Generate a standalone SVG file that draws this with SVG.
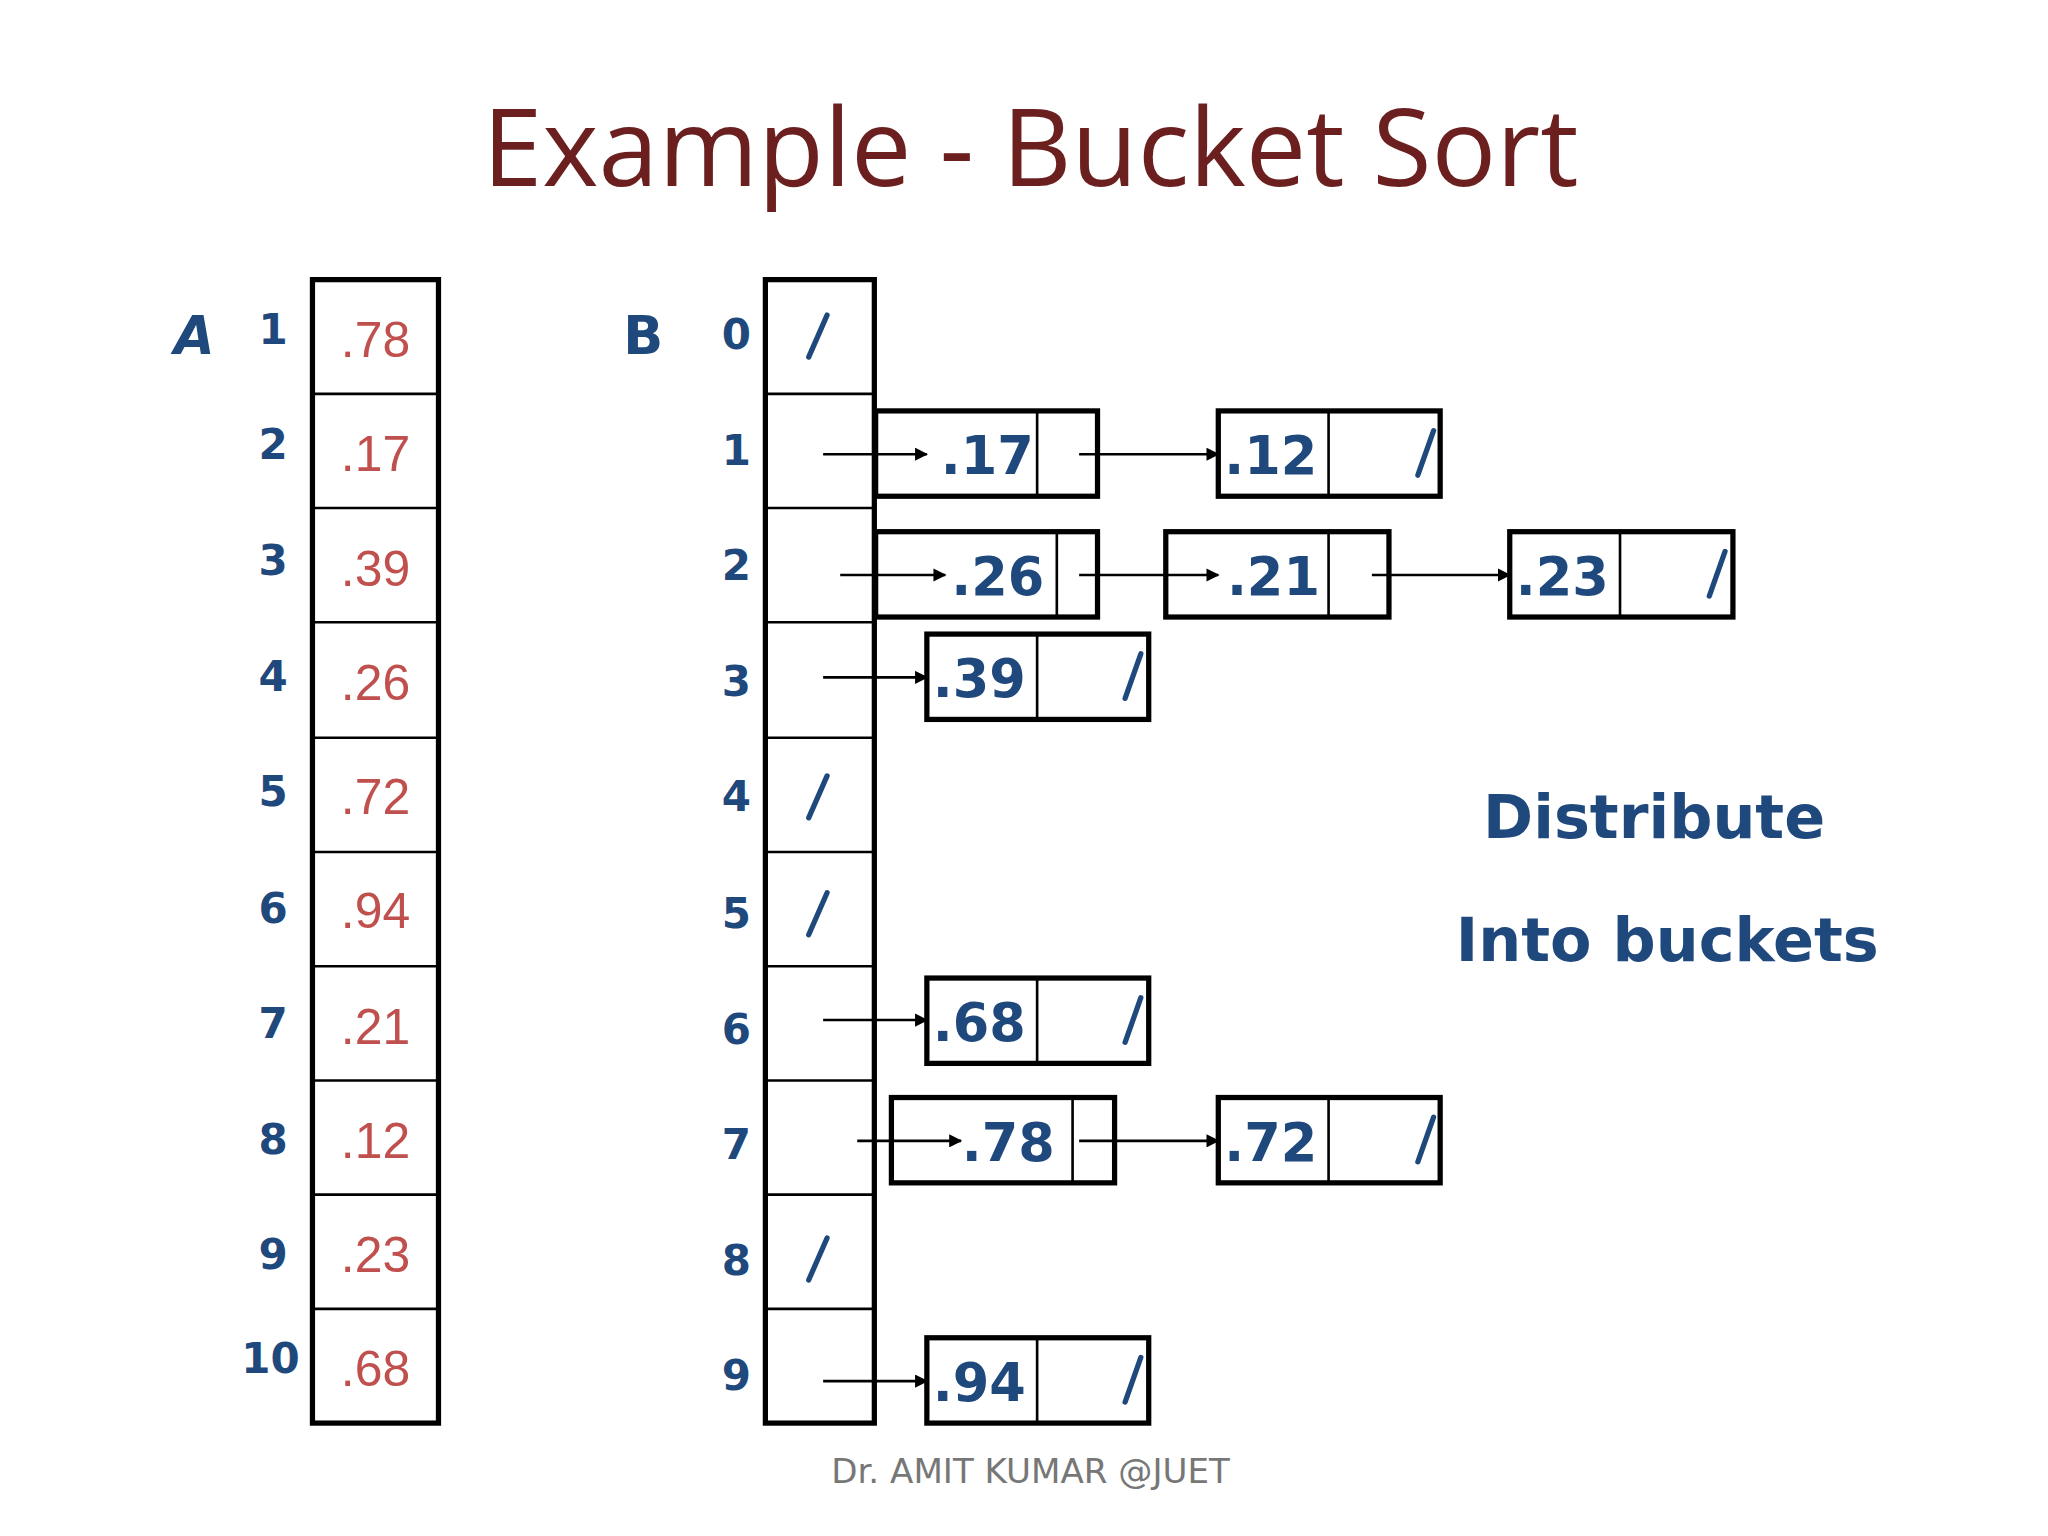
<svg xmlns="http://www.w3.org/2000/svg" width="2048" height="1536" viewBox="0 0 2048 1536">
<defs>
<style>
.thick{fill:none;stroke:#000;stroke-width:4}
.thin{stroke:#000;stroke-width:2}
.red{fill:#c0504d;font-family:"Liberation Sans",sans-serif;font-size:38px;text-anchor:middle}
.idx{fill:#1f497d;font-family:"DejaVu Sans",sans-serif;font-weight:bold;font-size:32px;text-anchor:middle}
.val{fill:#1f497d;font-family:"DejaVu Sans",sans-serif;font-weight:bold;font-size:40px;text-anchor:middle}
.sl{stroke:#1f497d;stroke-width:4;stroke-linecap:round}
.ar{stroke:#000;stroke-width:2;marker-end:url(#ah)}
</style>
<marker id="ah" markerWidth="10" markerHeight="10" refX="9" refY="5" orient="auto" markerUnits="userSpaceOnUse"><path d="M0,0 L10,5 L0,10 z" fill="#000"/></marker>
</defs>
<rect width="2048" height="1536" fill="#fff"/>
<g transform="scale(1.31282)">
<text x="785" y="142" font-family="Open Sans,Liberation Sans,sans-serif" font-size="82" fill="#6b1f1f" text-anchor="middle">Example - Bucket Sort</text>
<g id="arrayA">
<text x="148" y="270" class="idx" style="font-size:40px;font-style:italic">A</text>
<rect x="238" y="213" width="96" height="871" class="thick"/>
<g class="thin"><line x1="238" y1="300" x2="334" y2="300"/><line x1="238" y1="387" x2="334" y2="387"/><line x1="238" y1="474" x2="334" y2="474"/><line x1="238" y1="562" x2="334" y2="562"/><line x1="238" y1="649" x2="334" y2="649"/><line x1="238" y1="736" x2="334" y2="736"/><line x1="238" y1="823" x2="334" y2="823"/><line x1="238" y1="910" x2="334" y2="910"/><line x1="238" y1="997" x2="334" y2="997"/></g>
<text class="red" x="286" y="272">.78</text><text class="red" x="286" y="359">.17</text><text class="red" x="286" y="446">.39</text><text class="red" x="286" y="533">.26</text><text class="red" x="286" y="620">.72</text><text class="red" x="286" y="707">.94</text><text class="red" x="286" y="795">.21</text><text class="red" x="286" y="882">.12</text><text class="red" x="286" y="969">.23</text><text class="red" x="286" y="1056">.68</text>
<text class="idx" x="208" y="262">1</text><text class="idx" x="208" y="350">2</text><text class="idx" x="208" y="438">3</text><text class="idx" x="208" y="526">4</text><text class="idx" x="208" y="614">5</text><text class="idx" x="208" y="703">6</text><text class="idx" x="208" y="791">7</text><text class="idx" x="208" y="879">8</text><text class="idx" x="208" y="967">9</text><text class="idx" x="206" y="1046">10</text>
</g>
<g id="arrayB">
<text x="490" y="270" class="idx" style="font-size:40px">B</text>
<rect x="583" y="213" width="83" height="871" class="thick"/>
<g class="thin"><line x1="583" y1="300" x2="666" y2="300"/><line x1="583" y1="387" x2="666" y2="387"/><line x1="583" y1="474" x2="666" y2="474"/><line x1="583" y1="562" x2="666" y2="562"/><line x1="583" y1="649" x2="666" y2="649"/><line x1="583" y1="736" x2="666" y2="736"/><line x1="583" y1="823" x2="666" y2="823"/><line x1="583" y1="910" x2="666" y2="910"/><line x1="583" y1="997" x2="666" y2="997"/></g>
<text class="idx" x="561" y="266">0</text><text class="idx" x="561" y="354">1</text><text class="idx" x="561" y="442">2</text><text class="idx" x="561" y="530">3</text><text class="idx" x="561" y="618">4</text><text class="idx" x="561" y="707">5</text><text class="idx" x="561" y="795">6</text><text class="idx" x="561" y="883">7</text><text class="idx" x="561" y="971">8</text><text class="idx" x="561" y="1059">9</text>
<line class="sl" x1="616" y1="272" x2="630" y2="240"/><line class="sl" x1="616" y1="623" x2="630" y2="591"/><line class="sl" x1="616" y1="712" x2="630" y2="680"/><line class="sl" x1="616" y1="975" x2="630" y2="943"/>
</g>
<g id="n17"><rect x="667" y="313" width="169" height="65" class="thick"/><line class="thin" x1="790" y1="313" x2="790" y2="378"/><text class="val" x="752" y="361">.17</text></g>
<g id="n12"><rect x="928" y="313" width="169" height="65" class="thick"/><line class="thin" x1="1012" y1="313" x2="1012" y2="378"/><text class="val" x="968" y="361">.12</text><line class="sl" x1="1080" y1="362" x2="1092" y2="328"/></g>
<g id="n26"><rect x="667" y="405" width="169" height="65" class="thick"/><line class="thin" x1="805" y1="405" x2="805" y2="470"/><text class="val" x="760" y="453">.26</text></g>
<g id="n21"><rect x="888" y="405" width="170" height="65" class="thick"/><line class="thin" x1="1012" y1="405" x2="1012" y2="470"/><text class="val" x="970" y="453">.21</text></g>
<g id="n23"><rect x="1150" y="405" width="170" height="65" class="thick"/><line class="thin" x1="1234" y1="405" x2="1234" y2="470"/><text class="val" x="1190" y="453">.23</text><line class="sl" x1="1302" y1="454" x2="1314" y2="420"/></g>
<g id="n39"><rect x="706" y="483" width="169" height="65" class="thick"/><line class="thin" x1="790" y1="483" x2="790" y2="548"/><text class="val" x="746" y="531">.39</text><line class="sl" x1="857" y1="532" x2="869" y2="498"/></g>
<g id="n68"><rect x="706" y="745" width="169" height="65" class="thick"/><line class="thin" x1="790" y1="745" x2="790" y2="810"/><text class="val" x="746" y="793">.68</text><line class="sl" x1="857" y1="794" x2="869" y2="760"/></g>
<g id="n78"><rect x="679" y="836" width="170" height="65" class="thick"/><line class="thin" x1="817" y1="836" x2="817" y2="901"/><text class="val" x="768" y="884">.78</text></g>
<g id="n72"><rect x="928" y="836" width="169" height="65" class="thick"/><line class="thin" x1="1012" y1="836" x2="1012" y2="901"/><text class="val" x="968" y="884">.72</text><line class="sl" x1="1080" y1="885" x2="1092" y2="851"/></g>
<g id="n94"><rect x="706" y="1019" width="169" height="65" class="thick"/><line class="thin" x1="790" y1="1019" x2="790" y2="1084"/><text class="val" x="746" y="1067">.94</text><line class="sl" x1="857" y1="1068" x2="869" y2="1034"/></g>
<g id="connectors">
<line class="ar" x1="627" y1="346" x2="706" y2="346"/><line class="ar" x1="822" y1="346" x2="928" y2="346"/>
<line class="ar" x1="640" y1="438" x2="720" y2="438"/><line class="ar" x1="822" y1="438" x2="928" y2="438"/><line class="ar" x1="1045" y1="438" x2="1150" y2="438"/>
<line class="ar" x1="627" y1="516" x2="706" y2="516"/>
<line class="ar" x1="627" y1="777" x2="706" y2="777"/>
<line class="ar" x1="653" y1="869" x2="732" y2="869"/><line class="ar" x1="822" y1="869" x2="928" y2="869"/>
<line class="ar" x1="627" y1="1052" x2="706" y2="1052"/>
</g>
<text class="idx" x="1260" y="638" style="font-size:46px">Distribute</text>
<text class="idx" x="1270" y="732" style="font-size:46px">Into buckets</text>
<text x="785" y="1130" font-family="DejaVu Sans,sans-serif" font-size="26" fill="#777" text-anchor="middle">Dr. AMIT KUMAR @JUET</text>
</g>
</svg>
